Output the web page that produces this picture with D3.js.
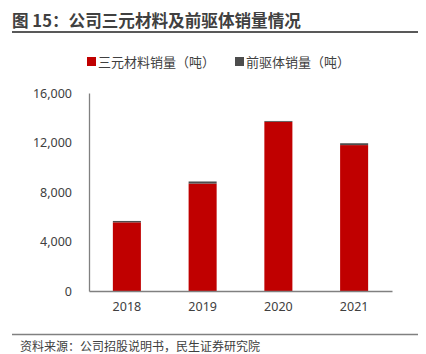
<!DOCTYPE html>
<html>
<head>
<meta charset="utf-8">
<script src="https://cdn.jsdelivr.net/npm/d3@7"></script>
<style>
  body { margin: 0; background: #fff; }
  text { font-family: "Noto Sans CJK SC", "Noto Sans", sans-serif; }
</style>
</head>
<body>
<div id="chart"></div>
<script>
const years = ['2018', '2019', '2020', '2021'];
const ternary = [5550, 8680, 13670, 11790];   // 三元材料销量（吨）
const precursor = [110, 170, 70, 150];        // 前驱体销量（吨）
const yTicks = [0, 4000, 8000, 12000, 16000];

const width = 426;
const height = 354;
const margin = { top: 93, right: 34, bottom: 63, left: 89 };

const svg = d3.select('#chart')
  .append('svg')
  .attr('width', width)
  .attr('height', height);

// title
svg.append('text')
  .text('图 15：公司三元材料及前驱体销量情况')
  .attr('x', 12)
  .attr('y', 27)
  .attr('font-size', 16.6)
  .attr('font-weight', 'bold')
  .attr('fill', '#404040');

svg.append('line')
  .attr('x1', 12).attr('x2', 418)
  .attr('y1', 32).attr('y2', 32)
  .attr('stroke', '#595959')
  .attr('stroke-width', 2);

const x = d3.scaleBand()
  .domain(years)
  .range([margin.left, width - margin.right])
  .paddingInner(0.63)
  .paddingOuter(0.315);

const y = d3.scaleLinear()
  .domain([0, 16000])
  .range([height - margin.bottom, margin.top]);

const data = years.map((yr, i) => ({ year: yr, a: ternary[i], b: precursor[i] }));

// bars
svg.append('g')
  .selectAll('rect')
  .data(data)
  .join('rect')
  .attr('x', d => x(d.year))
  .attr('width', x.bandwidth())
  .attr('y', d => y(d.a))
  .attr('height', d => y(0) - y(d.a))
  .attr('fill', '#c00000');

svg.append('g')
  .selectAll('rect')
  .data(data)
  .join('rect')
  .attr('x', d => x(d.year))
  .attr('width', x.bandwidth())
  .attr('y', d => y(d.a + d.b))
  .attr('height', d => y(d.a) - y(d.a + d.b))
  .attr('fill', '#4d4d4d');

// axes
const yAxis = svg.append('g')
  .attr('transform', `translate(${margin.left},0)`)
  .call(d3.axisLeft(y).tickValues(yTicks).tickSize(0).tickPadding(17).tickFormat(d3.format(',')));
yAxis.select('.domain').attr('stroke', '#808080').attr('stroke-width', 1.3);
yAxis.selectAll('text').attr('font-size', 12.5).attr('fill', '#404040')
  .style('font-family', '"Noto Sans", sans-serif');

const xAxis = svg.append('g')
  .attr('transform', `translate(0,${y(0)})`)
  .call(d3.axisBottom(x).tickSize(0).tickPadding(11));
xAxis.select('.domain').attr('stroke', '#808080').attr('stroke-width', 1.3);
xAxis.selectAll('text').attr('font-size', 12.5).attr('fill', '#404040')
  .style('font-family', '"Noto Sans", sans-serif');

// legend
const legend = [
  { label: '三元材料销量（吨）', color: '#c00000', x: 87 },
  { label: '前驱体销量（吨）', color: '#4d4d4d', x: 235 }
];
const lg = svg.append('g')
  .selectAll('g')
  .data(legend)
  .join('g')
  .attr('transform', d => `translate(${d.x},57)`);
lg.append('rect')
  .attr('width', 9).attr('height', 9)
  .attr('fill', d => d.color);
lg.append('text')
  .text(d => d.label)
  .attr('x', 11)
  .attr('y', 9.5)
  .attr('font-size', 13)
  .attr('fill', '#404040');

// source
svg.append('line')
  .attr('x1', 12).attr('x2', 418)
  .attr('y1', 334.5).attr('y2', 334.5)
  .attr('stroke', '#808080')
  .attr('stroke-width', 1.5);

svg.append('text')
  .text('资料来源：公司招股说明书，民生证券研究院')
  .attr('x', 20)
  .attr('y', 351)
  .attr('font-size', 12)
  .attr('fill', '#404040');
</script>
</body>
</html>
